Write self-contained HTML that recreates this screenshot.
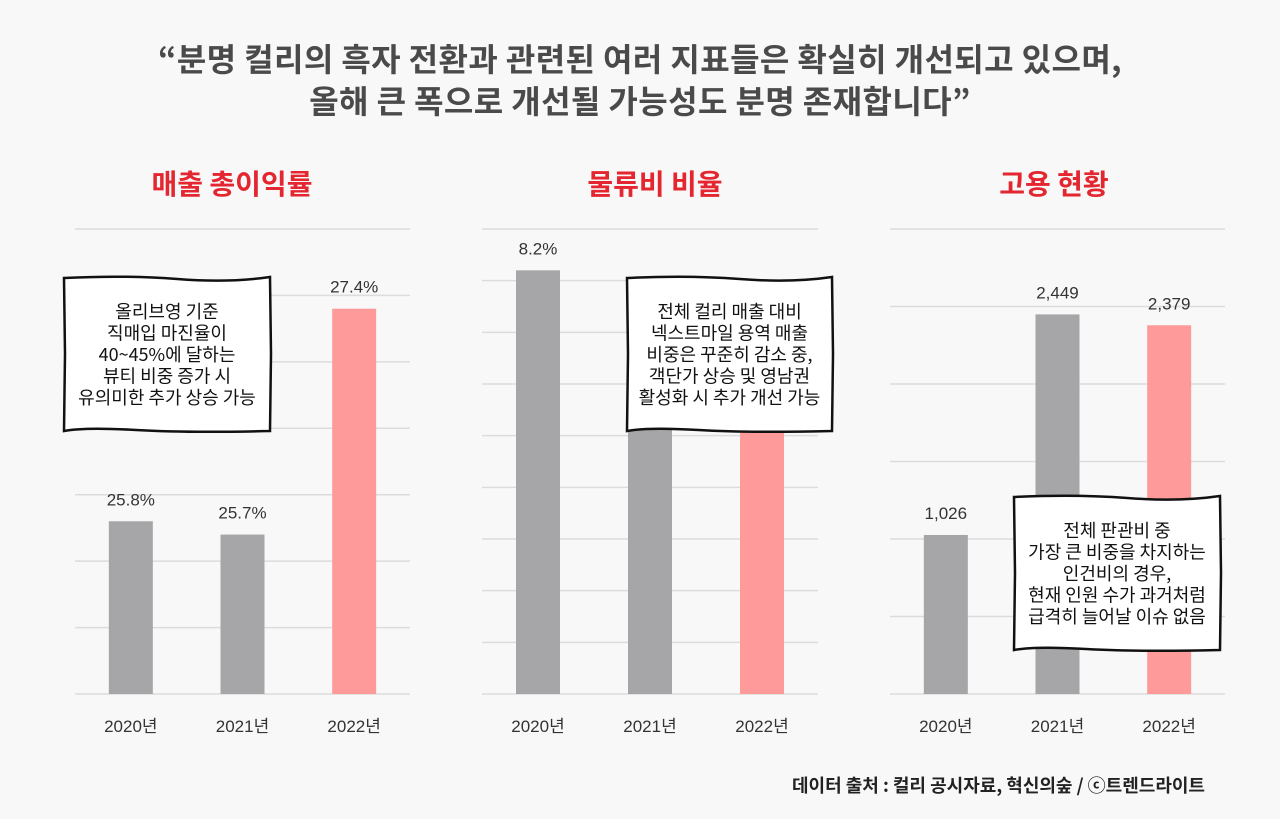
<!DOCTYPE html>
<html><head><meta charset="utf-8">
<style>
body{margin:0;background:#f8f8f8;}
#wrap{position:relative;width:1280px;height:819px;overflow:hidden;background:#f8f8f8;font-family:"Liberation Sans","Noto Sans CJK KR",sans-serif;}
.title{position:absolute;left:0;width:1280px;text-align:center;font-weight:bold;font-size:32px;letter-spacing:0.4px;color:#4a4a4a;font-family:"Noto Sans CJK KR",sans-serif;line-height:40px;}
.ct{position:absolute;width:300px;text-align:center;font-weight:bold;font-size:28px;color:#e3262f;top:164px;font-family:"Noto Sans CJK KR",sans-serif;line-height:38px;}
.src{position:absolute;right:75px;top:773px;font-size:18px;font-weight:bold;color:#222;font-family:"Noto Sans CJK KR",sans-serif;line-height:24px;}
</style></head><body>
<div id="wrap">
<div class="title" style="top:38px">“분명 컬리의 흑자 전환과 관련된 여러 지표들은 확실히 개선되고 있으며,</div>
<div class="title" style="top:80px">올해 큰 폭으로 개선될 가능성도 분명 존재합니다”</div>
<div class="ct" style="left:82px">매출 총이익률</div>
<div class="ct" style="left:505px">물류비 비율</div>
<div class="ct" style="left:904px">고용 현황</div>
<svg id="svg" width="1280" height="819" style="position:absolute;left:0;top:0"></svg>
<div class="src">데이터 출처 : 컬리 공시자료, 혁신의숲 / ⓒ트렌드라이트</div>
</div>
<script>
const categories=["2020년","2021년","2022년"];
const marginValues=[25.8,25.7,27.4];
const marginLabels=["25.8%","25.7%","27.4%"];
const logisticsValues=[8.2,6.8,6.2];
const logisticsLabels=["8.2%","",""];
const staffValues=[1026,2449,2379];
const staffLabels=["1,026","2,449","2,379"];
const ns="http://www.w3.org/2000/svg";
const svg=document.getElementById('svg');
function mk(t,a){const e=document.createElementNS(ns,t);for(const k in a)e.setAttribute(k,a[k]);svg.appendChild(e);return e;}
function chart(key,x0,x1,min,max,step,vals,labels){
  const top=229,bot=694;
  const y=v=>bot-(v-min)/(max-min)*(bot-top);
  for(let v=min;v<=max+1e-9;v+=step){
    const l=mk('line',{x1:x0,x2:x1,y1:y(v),y2:y(v),stroke:'#dcdcdc','stroke-width':1.5});
    
    
  }
  const band=(x1-x0)/3;
  vals.forEach((v,i)=>{
    const cx=x0+band*(i+0.5);
    const r=mk('rect',{x:cx-22,y:y(v),width:44,height:bot-y(v),fill:i==2?'#ff9a9b':'#a6a6a8'});
    
    
    if(labels[i]){
      const t=mk('text',{x:cx,y:y(v)-16,'text-anchor':'middle','font-size':17,fill:'#333'});
      t.textContent=labels[i];
      
      
    }
    const c=mk('text',{x:cx,y:732,'text-anchor':'middle','font-size':17,fill:'#333'});
    c.textContent=categories[i];
    
    
  });
}
chart('gross-margin',75,410,24.5,28,0.5,marginValues,marginLabels);
chart('logistics',482,818,0,9,1,logisticsValues,logisticsLabels);
chart('employment',890,1225,0,3000,500,staffValues,staffLabels);
function note(key,x,y,w,h,lines){
  const p=`M${x},${y+1} Q${x+w*0.3},${y-2} ${x+w*0.55},${y+2} T${x+w},${y} L${x+w+1},${y+h*0.5} L${x+w},${y+h} Q${x+w*0.6},${y+h+2} ${x+w*0.35},${y+h-1} T${x},${y+h} L${x+1},${y+h*0.5} Z`;
  const b=mk('path',{d:p,fill:'#fff',stroke:'#111','stroke-width':2.5});
  
  
  lines.forEach((s,i)=>{
    const t=mk('text',{x:x+w/2,y:y+41+i*21.5,'text-anchor':'middle','font-size':18,fill:'#111','font-family':'Noto Sans CJK KR, sans-serif'});
    t.textContent=s;
    
    
  });
}
note('gross-margin',64,277,206,154,["올리브영 기준","직매입 마진율이","40~45%에 달하는","뷰티 비중 증가 시","유의미한 추가 상승 가능"]);
note('logistics',627,277,205,154,["전체 컬리 매출 대비","넥스트마일 용역 매출","비중은 꾸준히 감소 중,","객단가 상승 및 영남권","활성화 시 추가 개선 가능"]);
note('employment',1014,496,206,154,["전체 판관비 중","가장 큰 비중을 차지하는","인건비의 경우,","현재 인원 수가 과거처럼","급격히 늘어날 이슈 없음"]);
</script>
</body></html>
